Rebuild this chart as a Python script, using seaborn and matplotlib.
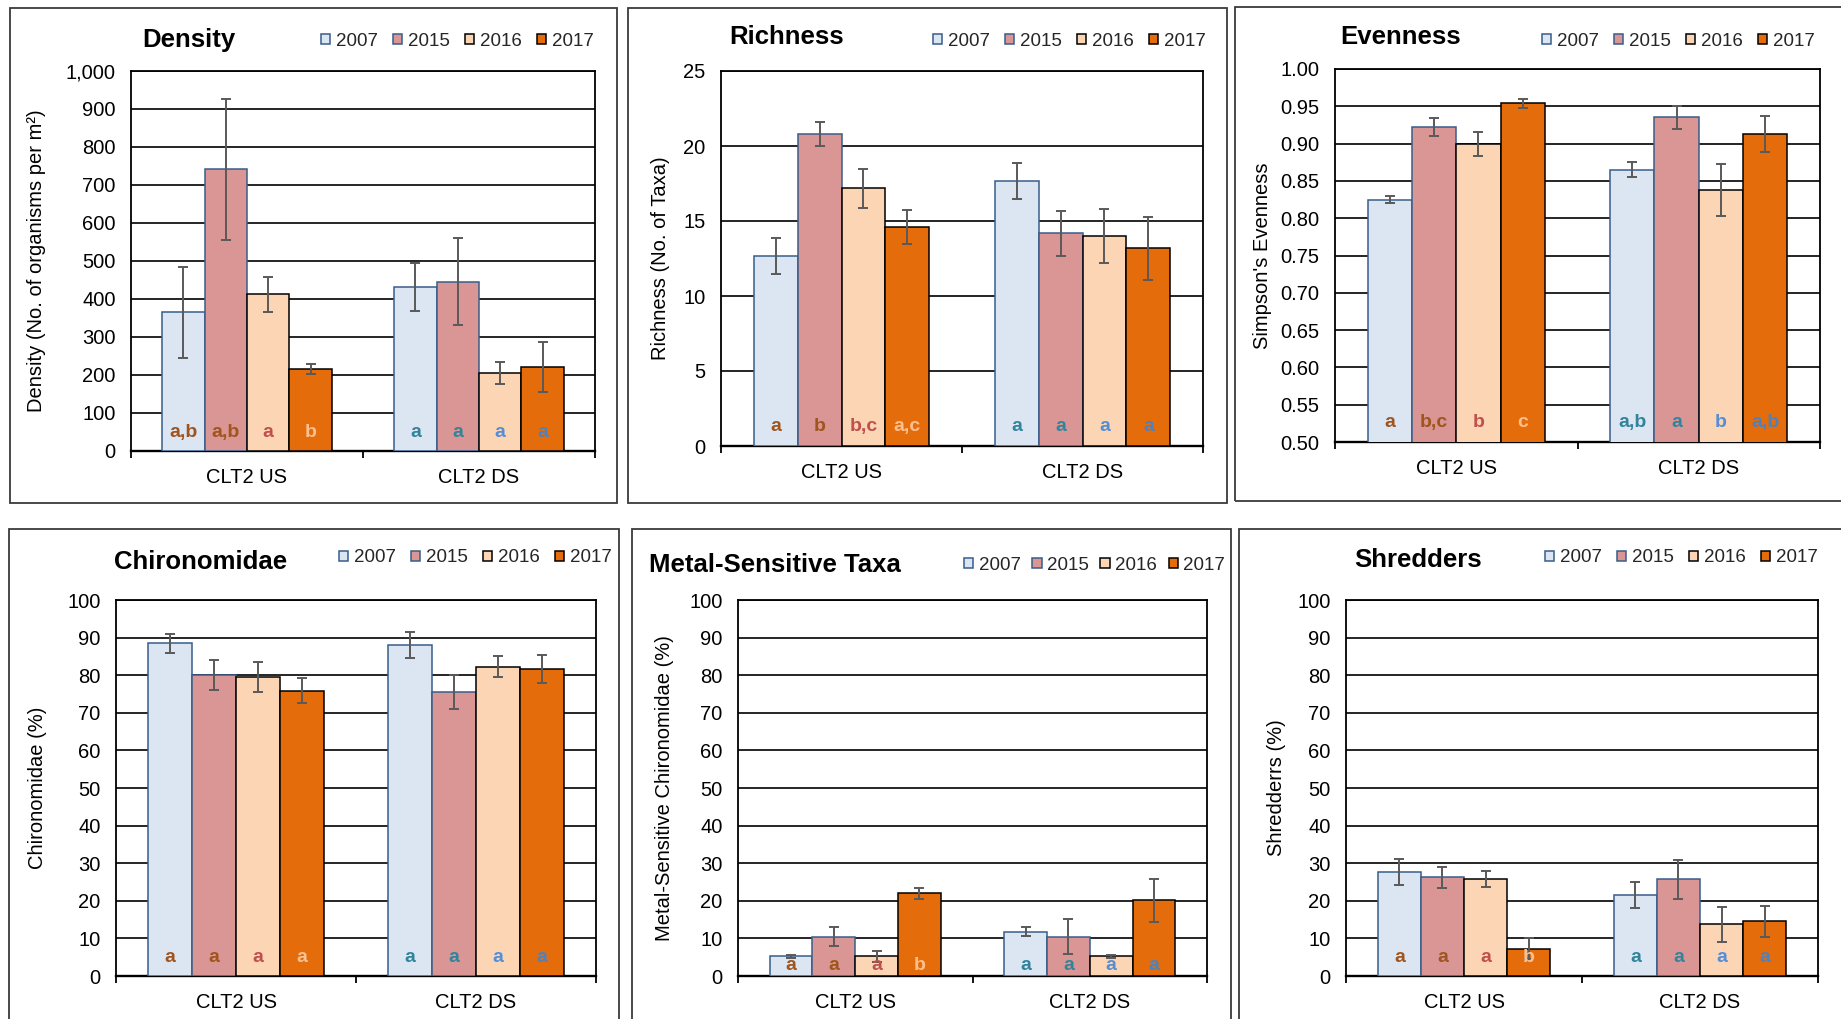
import numpy as np
import pandas as pd
import matplotlib
matplotlib.use("Agg")
import matplotlib.pyplot as plt
from matplotlib.patches import Rectangle, Patch
from matplotlib.ticker import FuncFormatter, MultipleLocator
import seaborn as sns

# ---------------------------------------------------------------- data
sites = ["CLT2 US", "CLT2 DS"]
years = ["2007", "2015", "2016", "2017"]

# values ordered: CLT2 US 2007, 2015, 2016, 2017, CLT2 DS 2007, 2015, 2016, 2017
density_mean = [365, 741, 412, 216, 431, 446, 205, 221]
density_se = [119, 185, 45, 14, 63, 115, 28, 65]
density_letters = ["a,b", "a,b", "a", "b", "a", "a", "a", "a"]

richness_mean = [12.7, 20.8, 17.2, 14.6, 17.7, 14.2, 14.0, 13.2]
richness_se = [1.2, 0.8, 1.3, 1.15, 1.2, 1.5, 1.8, 2.1]
richness_letters = ["a", "b", "b,c", "a,c", "a", "a", "a", "a"]

evenness_mean = [0.825, 0.922, 0.899, 0.954, 0.865, 0.935, 0.838, 0.913]
evenness_se = [0.005, 0.012, 0.016, 0.006, 0.010, 0.015, 0.035, 0.024]
evenness_letters = ["a", "b,c", "b", "c", "a,b", "a", "b", "a,b"]

chiro_mean = [88.5, 80.1, 79.5, 75.9, 88.0, 75.5, 82.3, 81.7]
chiro_se = [2.5, 4.0, 3.9, 3.3, 3.5, 4.6, 2.9, 3.7]
chiro_letters = ["a", "a", "a", "a", "a", "a", "a", "a"]

metal_mean = [5.3, 10.5, 5.2, 22.0, 11.8, 10.5, 5.2, 20.1]
metal_se = [0.4, 2.6, 1.5, 1.4, 1.1, 4.7, 0.45, 5.7]
metal_letters = ["a", "a", "a", "b", "a", "a", "a", "a"]

shred_mean = [27.6, 26.2, 25.8, 7.3, 21.5, 25.7, 13.7, 14.5]
shred_se = [3.4, 2.7, 2.0, 2.75, 3.4, 5.2, 4.7, 4.05]
shred_letters = ["a", "a", "a", "b", "a", "a", "a", "a"]

# ---------------------------------------------------------------- style
bar_colors = {"2007": "#DCE6F2", "2015": "#D99694", "2016": "#FCD5B5", "2017": "#E46C0A"}
edge_colors = {"2007": "#385D8A", "2015": "#385D8A", "2016": "#000000", "2017": "#000000"}
letter_colors = [["#A0541E", "#A0541E", "#C0504D", "#FAC090"],
                 ["#31849B", "#31849B", "#558ED5", "#4F81BD"]]

sns.set_style("white")
plt.rcParams["font.family"] = ["Liberation Sans", "DejaVu Sans"]

W, H = 1841, 1019
fig = plt.figure(figsize=(W / 100, H / 100), dpi=100)
fig.patch.set_facecolor("white")


def fx(x):
    return x / W


def fy(y):
    return 1 - y / H


def thousands(v, pos):
    return f"{v:,.0f}"


def two_dec(v, pos):
    return f"{v:.2f}"


def plain(v, pos):
    return f"{v:.0f}"


panels = [
    dict(title="Density", ylabel="Density (No. of organisms per m\u00b2)",
         mean=density_mean, se=density_se, letters=density_letters,
         ylim=(0, 1000), step=100, fmt=thousands, letter_frac=0.048,
         ax=(131, 71, 595, 451), frame=(10, 8, 617, 503),
         title_xy=(142, 40), legend_xy=(321, 41), ylabel_x=37, colsp=0.8),
    dict(title="Richness", ylabel="Richness (No. of Taxa)",
         mean=richness_mean, se=richness_se, letters=richness_letters,
         ylim=(0, 25), step=5, fmt=plain, letter_frac=0.053,
         ax=(721, 71, 1203, 446), frame=(628, 8, 1227, 503),
         title_xy=(729, 37), legend_xy=(933, 41), ylabel_x=660, colsp=0.8),
    dict(title="Evenness", ylabel="Simpson's Evenness",
         mean=evenness_mean, se=evenness_se, letters=evenness_letters,
         ylim=(0.5, 1.0), step=0.05, fmt=two_dec, letter_frac=0.052,
         ax=(1335, 69, 1820, 442), frame=(1235, 7, 1860, 501),
         title_xy=(1340, 37), legend_xy=(1542, 41), ylabel_x=1263, colsp=0.8),
    dict(title="Chironomidae", ylabel="Chironomidae (%)",
         mean=chiro_mean, se=chiro_se, letters=chiro_letters,
         ylim=(0, 100), step=10, fmt=plain, letter_frac=0.049,
         ax=(116, 600, 596, 976), frame=(9, 529, 619, 1040),
         title_xy=(114, 562), legend_xy=(339, 558), ylabel_x=38, colsp=0.8),
    dict(title="Metal-Sensitive Taxa", ylabel="Metal-Sensitive Chironomidae (%)",
         mean=metal_mean, se=metal_se, letters=metal_letters,
         ylim=(0, 100), step=10, fmt=plain, letter_frac=0.029,
         ax=(738, 600, 1207, 976), frame=(632, 529, 1231, 1040),
         title_xy=(649, 565), legend_xy=(964, 565), ylabel_x=664, colsp=0.6),
    dict(title="Shredders", ylabel="Shredderrs (%)",
         mean=shred_mean, se=shred_se, letters=shred_letters,
         ylim=(0, 100), step=10, fmt=plain, letter_frac=0.049,
         ax=(1346, 600, 1818, 976), frame=(1239, 529, 1860, 1040),
         title_xy=(1354, 560), legend_xy=(1545, 558), ylabel_x=1276, colsp=0.8),
]

FS = 14.5
LEG_FS = 13.5

for p in panels:
    # chart border
    x0, y0, x1, y1 = p["frame"]
    fig.add_artist(Rectangle((fx(x0), fy(y1)), fx(x1) - fx(x0), fy(y0) - fy(y1),
                             transform=fig.transFigure, fill=False,
                             edgecolor="#3A3A3A", linewidth=1.3, zorder=0))

    a0, b0, a1, b1 = p["ax"]
    ax = fig.add_axes([fx(a0), fy(b1), fx(a1) - fx(a0), fy(b0) - fy(b1)])

    df = pd.DataFrame({
        "site": [s for s in sites for _ in years],
        "year": [y for _ in sites for y in years],
        "value": p["mean"],
    })
    sns.barplot(data=df, x="site", y="value", hue="year", order=sites,
                hue_order=years, palette=bar_colors, width=0.73,
                errorbar=None, legend=False, saturation=1,
                linewidth=1.1, ax=ax, zorder=3)

    lo, hi = p["ylim"]
    for i, year in enumerate(years):
        cont = ax.containers[i]
        for j, bar in enumerate(cont):
            bar.set_edgecolor(edge_colors[year])
            bar.set_linewidth(1.1)
            k = j * len(years) + i
            xc = bar.get_x() + bar.get_width() / 2
            ax.errorbar(xc, p["mean"][k], yerr=p["se"][k], fmt="none",
                        ecolor="#595959", elinewidth=1.4, capsize=3.3,
                        capthick=1.4, zorder=5)
            ax.text(xc, lo + p["letter_frac"] * (hi - lo), p["letters"][k],
                    ha="center", va="center", fontsize=14, fontweight="bold",
                    color=letter_colors[j][i], zorder=6)

    ax.set_ylim(lo, hi)
    ax.set_xlim(-0.5, 1.5)
    ax.yaxis.set_major_locator(MultipleLocator(p["step"]))
    ax.yaxis.set_major_formatter(FuncFormatter(p["fmt"]))
    ax.grid(axis="y", color="black", linewidth=1.2, zorder=0)
    ax.grid(axis="x", visible=False)
    ax.set_axisbelow(True)
    for s in ax.spines.values():
        s.set_visible(True)
        s.set_color("black")
        s.set_linewidth(1.3)
    ax.spines["bottom"].set_linewidth(1.7)

    ax.tick_params(axis="y", length=0, pad=11, labelsize=FS, labelcolor="black")
    ax.set_xticks([0, 1])
    ax.set_xticklabels(sites)
    ax.tick_params(axis="x", which="major", length=0, pad=12, labelsize=FS,
                   labelcolor="black")
    ax.set_xticks([-0.5, 0.5, 1.5], minor=True)
    ax.tick_params(axis="x", which="minor", length=5, width=1.3,
                   direction="out", color="black", bottom=True)

    ax.set_xlabel("")
    ax.set_ylabel(p["ylabel"], fontsize=FS, color="black")
    ax.yaxis.label.set_verticalalignment("center")
    ax.yaxis.set_label_coords((p["ylabel_x"] - a0) / (a1 - a0), 0.5)

    tx, ty = p["title_xy"]
    fig.text(fx(tx), fy(ty), p["title"], ha="left", va="center",
             fontsize=18.5, fontweight="bold", color="black")

    handles = [Patch(facecolor=bar_colors[y], edgecolor=edge_colors[y],
                     linewidth=1.1, label=y) for y in years]
    lx, ly = p["legend_xy"]
    ax.legend(handles=handles, loc="center left",
              bbox_to_anchor=(fx(lx), fy(ly)), bbox_transform=fig.transFigure,
              ncol=4, frameon=False, fontsize=LEG_FS, handlelength=0.5,
              handleheight=0.5, handletextpad=0.3, columnspacing=p["colsp"],
              borderpad=0, borderaxespad=0)

fig.savefig("out.png", dpi=100, facecolor="white")
